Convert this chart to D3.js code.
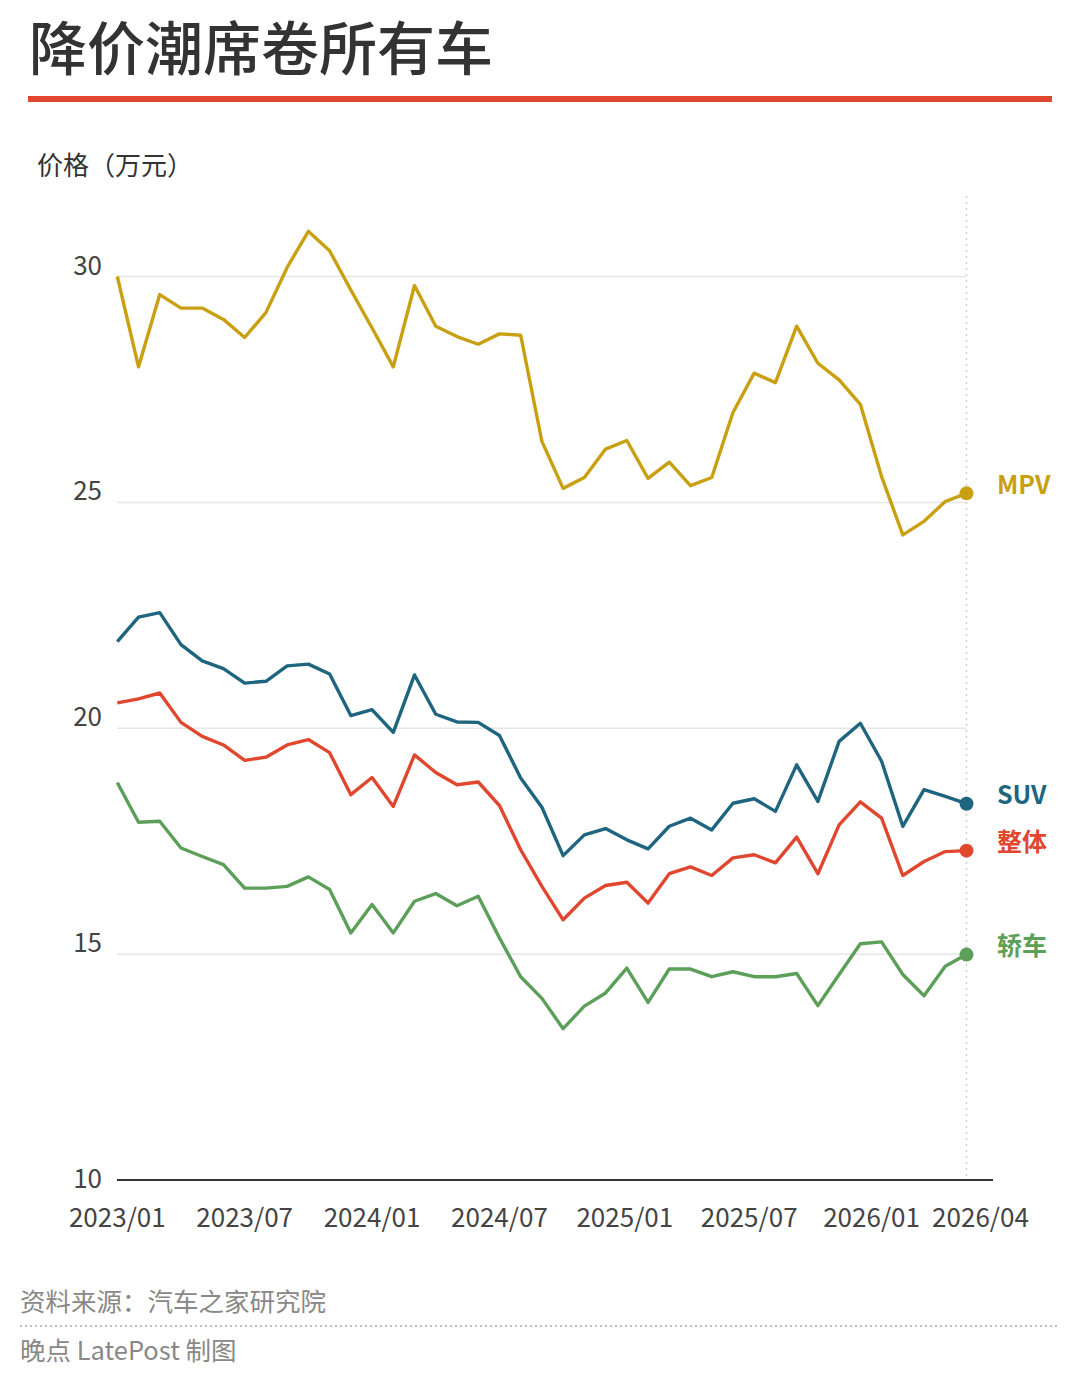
<!DOCTYPE html>
<html>
<head>
<meta charset="utf-8">
<script src="https://cdn.jsdelivr.net/npm/d3@7"></script>
<style>
  body { margin: 0; background: #fff; }
  svg { display: block; font-family: "Noto Sans CJK SC", "Noto Sans", sans-serif; }
  .grid line { stroke: #e6e6e6; stroke-width: 1.5; }
  .tick-label { fill: #444; font-size: 26px; }
  .series { fill: none; stroke-width: 3.4; stroke-linejoin: round; }
  .end-label { font-size: 25px; font-weight: 700; }
</style>
</head>
<body>
<svg width="1080" height="1373"></svg>
<script>
const width = 1080
const height = 1373

// monthly avg price (万元), 2023/01 onwards
const mpv = [30.0, 28.0, 29.6, 29.3, 29.3, 29.05, 28.65, 29.2, 30.2, 31.0,
    30.57, 29.7, 28.86, 28.0, 29.8, 28.9, 28.67, 28.5, 28.73, 28.7,
    26.35, 25.31, 25.55, 26.18, 26.37, 25.53, 25.89, 25.37, 25.55, 26.99,
    27.86, 27.65, 28.9, 28.08, 27.71, 27.17, 25.57, 24.28, 24.58, 25.02, 25.2]
const suv = [21.92, 22.46, 22.56, 21.85, 21.49, 21.32, 21.0, 21.04, 21.38, 21.42,
    21.2, 20.28, 20.41, 19.91, 21.18, 20.31, 20.14, 20.13, 19.84, 18.9,
    18.25, 17.18, 17.64, 17.78, 17.53, 17.33, 17.83, 18.01, 17.75, 18.34,
    18.44, 18.16, 19.19, 18.38, 19.71, 20.11, 19.27, 17.83, 18.64, 18.49, 18.33]
const overall = [20.56, 20.65, 20.78, 20.13, 19.82, 19.63, 19.29, 19.36, 19.63, 19.75,
    19.46, 18.53, 18.91, 18.27, 19.41, 19.02, 18.75, 18.81, 18.29, 17.31,
    16.5, 15.76, 16.24, 16.52, 16.59, 16.13, 16.78, 16.93, 16.74, 17.13,
    17.2, 17.02, 17.59, 16.78, 17.86, 18.37, 18.01, 16.74, 17.05, 17.27, 17.29]
const sedan = [18.8, 17.92, 17.94, 17.35, 17.16, 16.98, 16.46, 16.46, 16.5, 16.71,
    16.43, 15.47, 16.1, 15.47, 16.17, 16.34, 16.07, 16.28, 15.36, 14.5,
    14.02, 13.35, 13.85, 14.14, 14.69, 13.93, 14.67, 14.67, 14.5, 14.61,
    14.5, 14.5, 14.57, 13.86, 14.55, 15.23, 15.27, 14.55, 14.08, 14.73, 14.99]

const seriesNames = ['MPV', 'SUV', '整体', '轿车']
const seriesColors = ['#c9a011', '#1f657f', '#e0472f', '#5c9f58']
const seriesData = [mpv, suv, overall, sedan]

const yTicks = [10, 15, 20, 25, 30]
const xTickIdx = [0, 6, 12, 18, 24, 30, 36, 40]
const xTickLabels = ['2023/01', '2023/07', '2024/01', '2024/07', '2025/01', '2025/07', '2026/01', '2026/04']
// small nudges so the last labels don't collide
const xTickNudge = [0, 0, 0, 0, -2, -5, -10, 14]

const svg = d3.select('svg')

const x = d3.scaleLinear().domain([0, mpv.length - 1]).range([117.3, 966.5])
const y = d3.scaleLinear().domain([10, 30]).range([1180, 276.5])

// header
svg.append('text')
    .attr('x', 29).attr('y', 70)
    .attr('fill', '#333')
    .style('font-size', '58px').style('font-weight', 500)
    .text('降价潮席卷所有车')

svg.append('rect')
    .attr('x', 28).attr('y', 96)
    .attr('width', 1024).attr('height', 6)
    .attr('fill', '#e0452f')

svg.append('text')
    .attr('x', 37).attr('y', 175)
    .attr('fill', '#333')
    .style('font-size', '26px')
    .text('价格（万元）')

// gridlines
const grid = svg.append('g').attr('class', 'grid')
grid.selectAll('line')
    .data(yTicks.filter(d => d > 10))
    .enter().append('line')
    .attr('x1', 117).attr('x2', 966)
    .attr('y1', d => y(d)).attr('y2', d => y(d))

svg.selectAll('.ylab')
    .data(yTicks)
    .enter().append('text')
    .attr('class', 'tick-label')
    .attr('x', 102)
    .attr('y', d => d === 10 ? y(d) + 8 : y(d) - 2)
    .attr('text-anchor', 'end')
    .text(d => d)

// vertical dotted marker at latest month
svg.append('line')
    .attr('x1', x(mpv.length - 1)).attr('x2', x(mpv.length - 1))
    .attr('y1', 196).attr('y2', y(10))
    .attr('stroke', '#cfcfcf').attr('stroke-width', 1.5)
    .attr('stroke-dasharray', '2,4')

// baseline
svg.append('line')
    .attr('x1', 117).attr('x2', 993)
    .attr('y1', y(10)).attr('y2', y(10))
    .attr('stroke', '#333').attr('stroke-width', 2)

svg.selectAll('.xlab')
    .data(xTickIdx)
    .enter().append('text')
    .attr('class', 'tick-label')
    .attr('x', (d, i) => x(d) + xTickNudge[i])
    .attr('y', 1227)
    .attr('text-anchor', 'middle')
    .text((d, i) => xTickLabels[i])

// lines
const line = d3.line()
    .x((d, i) => x(i))
    .y(d => y(d))

const labelDy = [-8, -8, -8, -8]

seriesData.forEach((vals, k) => {
    svg.append('path')
        .attr('class', 'series')
        .attr('stroke', seriesColors[k])
        .attr('d', line(vals))

    const last = vals.length - 1
    svg.append('circle')
        .attr('cx', x(last)).attr('cy', y(vals[last]))
        .attr('r', 7)
        .attr('fill', seriesColors[k])

    svg.append('text')
        .attr('class', 'end-label')
        .attr('x', 997)
        .attr('y', y(vals[last]) + labelDy[k])
        .attr('dy', '0.35em')
        .attr('fill', seriesColors[k])
        .text(seriesNames[k])
})

// footer
svg.append('text')
    .attr('x', 20).attr('y', 1311)
    .attr('fill', '#888')
    .style('font-size', '25.5px')
    .text('资料来源：汽车之家研究院')

svg.append('line')
    .attr('x1', 20).attr('x2', 1060)
    .attr('y1', 1326).attr('y2', 1326)
    .attr('stroke', '#aaa').attr('stroke-width', 1.5)
    .attr('stroke-dasharray', '2,3')

svg.append('text')
    .attr('x', 20).attr('y', 1360)
    .attr('fill', '#888')
    .style('font-size', '25.5px')
    .text('晚点 LatePost 制图')
</script>
</body>
</html>
